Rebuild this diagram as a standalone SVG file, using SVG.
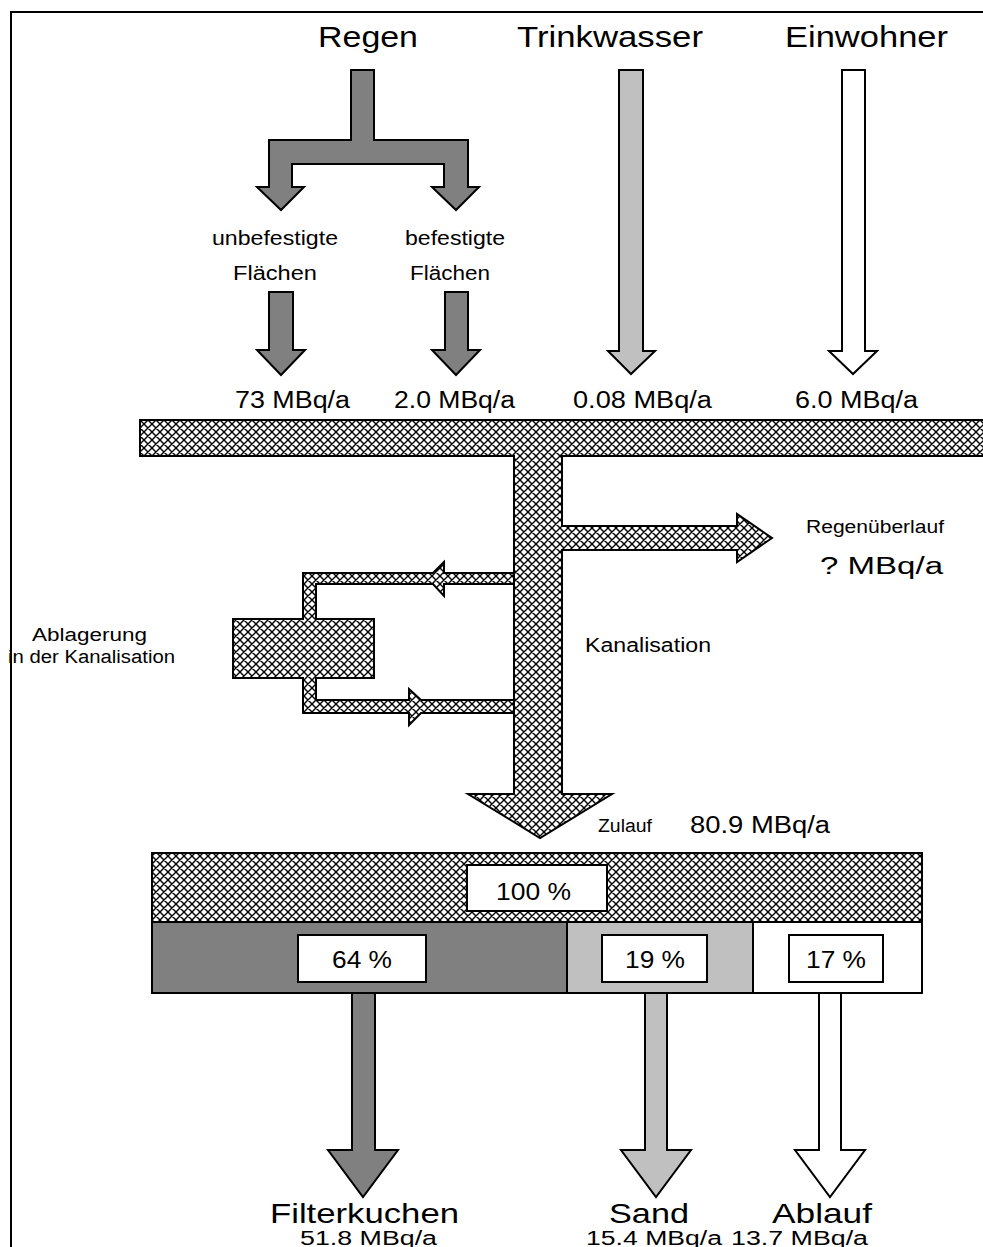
<svg xmlns="http://www.w3.org/2000/svg" width="983" height="1247" viewBox="0 0 983 1247">
<defs>
<pattern id="hatch" patternUnits="userSpaceOnUse" width="8" height="8">
<rect width="8" height="8" fill="#fff"/>
<path d="M0,0 L8,8 M8,0 L0,8 M-1,7 L1,9 M7,-1 L9,1 M-1,1 L1,-1 M7,9 L9,7" stroke="#000" stroke-width="1.4"/>
</pattern>
</defs>
<style>
.o{stroke:#000;stroke-width:2;stroke-linejoin:miter}
.dk{fill:#808080}
.lt{fill:#c0c0c0}
.wh{fill:#fff}
.ht{fill:url(#hatch)}
text{font-family:"Liberation Sans",Arial,sans-serif;fill:#000}
.t30{font-size:30px}
.t28{font-size:28px}
.t23{font-size:23px}
.t20{font-size:20px}
.t18{font-size:18px}
</style>
<rect width="983" height="1247" fill="#fff"/>
<path d="M11,1250 V12 H990" fill="none" stroke="#000" stroke-width="2"/>

<g id="regen">
<path class="o dk" d="M351,70 H374 V140 H468 V187 H479 L456,210 L432,187 H444 V164 H292 V187 H304 L281,210 L257,187 H269 V140 H351 Z"/>
<text class="t30" x="318" y="47" textLength="100" lengthAdjust="spacingAndGlyphs">Regen</text>
</g>
<g id="unbefestigt">
<text class="t20" x="212" y="245" textLength="126" lengthAdjust="spacingAndGlyphs">unbefestigte</text>
<text class="t20" x="233" y="280" textLength="84" lengthAdjust="spacingAndGlyphs">Flächen</text>
<path class="o dk" d="M269,292 H293 V350 H305 L281,375 L257,350 H269 Z"/>
<text class="t23" x="235" y="408" textLength="115" lengthAdjust="spacingAndGlyphs">73 MBq/a</text>
</g>
<g id="befestigt">
<text class="t20" x="405" y="245" textLength="100" lengthAdjust="spacingAndGlyphs">befestigte</text>
<text class="t20" x="410" y="280" textLength="80" lengthAdjust="spacingAndGlyphs">Flächen</text>
<path class="o dk" d="M445,292 H468 V350 H480 L456,375 L432,350 H445 Z"/>
<text class="t23" x="394" y="408" textLength="121" lengthAdjust="spacingAndGlyphs">2.0 MBq/a</text>
</g>
<g id="trinkwasser">
<text class="t30" x="517" y="47" textLength="186" lengthAdjust="spacingAndGlyphs">Trinkwasser</text>
<path class="o lt" d="M619,70 H643 V351 H655 L631,374 L608,351 H619 Z"/>
<text class="t23" x="573" y="408" textLength="139" lengthAdjust="spacingAndGlyphs">0.08 MBq/a</text>
</g>
<g id="einwohner">
<text class="t30" x="785" y="47" textLength="163" lengthAdjust="spacingAndGlyphs">Einwohner</text>
<path class="o wh" d="M842,70 H865 V351 H877 L853,374 L829,351 H842 Z"/>
<text class="t23" x="795" y="408" textLength="123" lengthAdjust="spacingAndGlyphs">6.0 MBq/a</text>
</g>

<g id="ablagerung">
<path class="o ht" d="M514,573 H444 V562 L433,573 H303 V619 H233 V678 H303 V713 H409 V725 L421,713 H514 V700 H421 L409,689 V700 H316 V678 H374 V619 H316 V584 H433 L444,596 V584 H514 Z"/>
<text class="t18" x="32" y="641" textLength="115" lengthAdjust="spacingAndGlyphs">Ablagerung</text>
<text class="t18" x="8" y="663" textLength="167" lengthAdjust="spacingAndGlyphs">in der Kanalisation</text>
</g>

<g id="kanalisation">
<path class="o ht" d="M140,420 H992 V456 H562 V526 H737 V514 L772,538 L737,562 V550 H562 V794 H612 L540,838 L468,794 H514 V456 H140 Z"/>
<text class="t20" x="585" y="652" textLength="126" lengthAdjust="spacingAndGlyphs">Kanalisation</text>
</g>
<g id="regenueberlauf">
<text class="t18" x="806" y="533" textLength="138" lengthAdjust="spacingAndGlyphs">Regenüberlauf</text>
<text class="t23" x="820" y="574" textLength="123" lengthAdjust="spacingAndGlyphs">? MBq/a</text>
</g>
<g id="zulauf">
<text class="t18" x="598" y="832" textLength="54" lengthAdjust="spacingAndGlyphs">Zulauf</text>
<text class="t23" x="690" y="833" textLength="140" lengthAdjust="spacingAndGlyphs">80.9 MBq/a</text>
</g>

<g id="klaeranlage">
<rect class="o ht" x="152" y="853" width="770" height="69"/>
<rect class="o wh" x="467" y="865" width="140" height="46"/>
<text class="t23" x="496" y="900" textLength="75" lengthAdjust="spacingAndGlyphs">100 %</text>
<rect class="o dk" x="152" y="922" width="415" height="71"/>
<rect class="o lt" x="567" y="922" width="186" height="71"/>
<rect class="o wh" x="753" y="922" width="169" height="71"/>
<rect class="o wh" x="298" y="935" width="128" height="47"/>
<text class="t23" x="332" y="968" textLength="60" lengthAdjust="spacingAndGlyphs">64 %</text>
<rect class="o wh" x="602" y="935" width="105" height="47"/>
<text class="t23" x="625" y="968" textLength="60" lengthAdjust="spacingAndGlyphs">19 %</text>
<rect class="o wh" x="789" y="935" width="94" height="47"/>
<text class="t23" x="806" y="968" textLength="60" lengthAdjust="spacingAndGlyphs">17 %</text>
</g>

<g id="filterkuchen">
<path class="o dk" d="M352,993 H375 V1150 H398 L363,1197 L328,1150 H352 Z"/>
<text class="t28" x="270" y="1223" textLength="189" lengthAdjust="spacingAndGlyphs">Filterkuchen</text>
<text class="t20" x="300" y="1245" textLength="137" lengthAdjust="spacingAndGlyphs">51.8 MBq/a</text>
</g>
<g id="sand">
<path class="o lt" d="M645,993 H667 V1150 H691 L656,1197 L621,1150 H645 Z"/>
<text class="t28" x="609" y="1223" textLength="80" lengthAdjust="spacingAndGlyphs">Sand</text>
<text class="t20" x="586" y="1245" textLength="136" lengthAdjust="spacingAndGlyphs">15.4 MBq/a</text>
</g>
<g id="ablauf">
<path class="o wh" d="M819,993 H841 V1150 H865 L830,1197 L795,1150 H819 Z"/>
<text class="t28" x="772" y="1223" textLength="100" lengthAdjust="spacingAndGlyphs">Ablauf</text>
<text class="t20" x="731" y="1245" textLength="137" lengthAdjust="spacingAndGlyphs">13.7 MBq/a</text>
</g>
</svg>
